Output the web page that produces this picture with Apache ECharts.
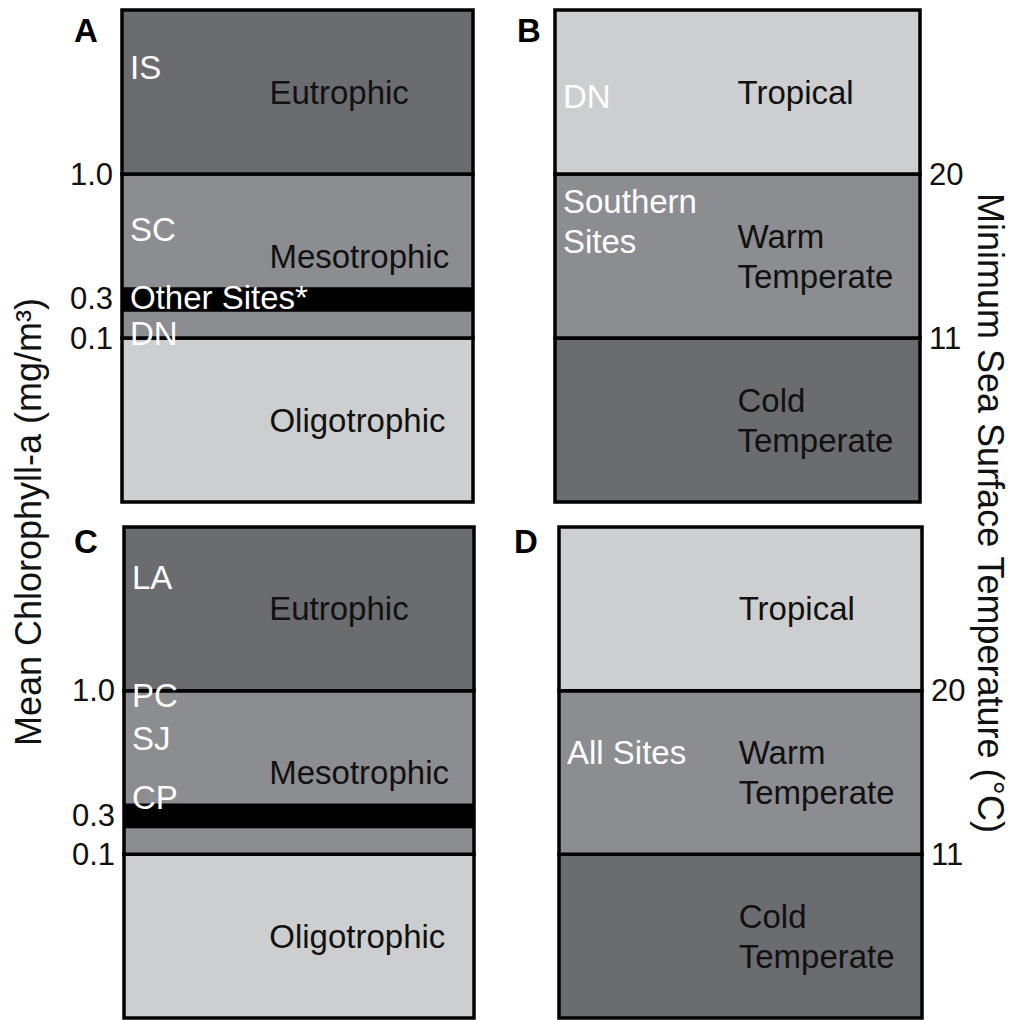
<!DOCTYPE html>
<html>
<head>
<meta charset="utf-8">
<script src="https://cdn.jsdelivr.net/npm/echarts@6/dist/echarts.min.js"></script>
<style>
html,body{margin:0;padding:0;background:#fff;}
#chart{width:1016px;height:1020px;}
</style>
</head>
<body>
<div id="chart"></div>
<script>
// ---- data ----
const bandEdges = [[0, 1], [1, 2], [2, 3]];            // schematic band ranks (bottom -> top)
const trophicBands = ['Oligotrophic', 'Mesotrophic', 'Eutrophic'];
const thermalBands = ['Cold\nTemperate', 'Warm\nTemperate', 'Tropical'];
const chlTickLabels = ['0.1', '0.3', '1.0'];
const chlTickValues = [1, 1.24, 2];
const sstTickLabels = ['11', '20'];
const sstTickValues = [1, 2];
const otherSitesBand = [1.16, 1.31];                      // black band (0.1–0.3 region)
const sitesA = ['IS', 'SC', 'Other Sites*', 'DN'];
const sitesAValues = [2.65, 1.66, 1.25, 1.03];
const sitesB = ['DN', 'Southern\nSites'];
const sitesBValues = [2.47, 1.71];
const sitesC = ['LA', 'PC', 'SJ', 'CP'];
const sitesCValues = [2.69, 1.97, 1.71, 1.35];
const sitesD = ['All Sites'];
const sitesDValues = [1.62];

// ---- style ----
const DARK = '#6b6c70', MID = '#8c8d91', LIGHT = '#cdced0';
const FONT = 'Liberation Sans, Arial, sans-serif';
const trophicColors = [LIGHT, MID, DARK];
const thermalColors = [DARK, MID, LIGHT];

const panels = [
  {letter: 'A', grid: {left: 122, top: 10, width: 351, height: 492}, kind: 'chl', sites: sitesA, siteVals: sitesAValues, black: true, nameX: 0.42, lx: 74, ly: 30},
  {letter: 'B', grid: {left: 555, top: 10, width: 365, height: 492}, kind: 'sst', sites: sitesB, siteVals: sitesBValues, black: false, nameX: 0.5, lx: 517, ly: 30},
  {letter: 'C', grid: {left: 124, top: 527, width: 350, height: 491}, kind: 'chl', sites: sitesC, siteVals: sitesCValues, black: true, nameX: 0.415, lx: 74, ly: 541},
  {letter: 'D', grid: {left: 559, top: 527, width: 363, height: 491}, kind: 'sst', sites: sitesD, siteVals: sitesDValues, black: false, nameX: 0.495, lx: 514, ly: 541}
];

const grids = [], xAxes = [], yAxes = [], series = [], graphics = [];

panels.forEach((p, i) => {
  grids.push(p.grid);
  xAxes.push({type: 'value', gridIndex: i, min: 0, max: 1, show: false});
  const isChl = p.kind === 'chl';
  const vals = isChl ? chlTickValues : sstTickValues;
  const labs = isChl ? chlTickLabels : sstTickLabels;
  yAxes.push({
    type: 'value', gridIndex: i, min: 0, max: 3,
    position: isChl ? 'left' : 'right',
    axisLine: {show: false}, axisTick: {show: false}, splitLine: {show: false},
    axisLabel: {
      customValues: vals,
      formatter: v => labs[vals.indexOf(v)],
      fontSize: 31, fontFamily: FONT, color: '#111', margin: 9
    }
  });
  const colors = isChl ? trophicColors : thermalColors;
  const names = isChl ? trophicBands : thermalBands;
  // bands
  series.push({
    type: 'custom', xAxisIndex: i, yAxisIndex: i, silent: true, z: 1,
    data: bandEdges.map((e, k) => [e[0], e[1], k]),
    renderItem(params, api) {
      const a = api.coord([0, api.value(1)]);
      const b = api.coord([1, api.value(0)]);
      return {type: 'rect', shape: {x: a[0], y: a[1], width: b[0] - a[0], height: b[1] - a[1]},
        style: {fill: colors[api.value(2)], stroke: '#000', lineWidth: 3.5}};
    }
  });
  // black "other sites" band
  if (p.black) {
    series.push({
      type: 'custom', xAxisIndex: i, yAxisIndex: i, silent: true, z: 2,
      data: [[otherSitesBand[0], otherSitesBand[1]]],
      renderItem(params, api) {
        const a = api.coord([0, api.value(1)]);
        const b = api.coord([1, api.value(0)]);
        return {type: 'rect', shape: {x: a[0] - 1, y: a[1], width: b[0] - a[0] + 2, height: b[1] - a[1]},
          style: {fill: '#000'}};
      }
    });
  }
  // band names
  series.push({
    type: 'custom', xAxisIndex: i, yAxisIndex: i, silent: true, z: 3,
    data: bandEdges.map((e, k) => [(e[0] + e[1]) / 2, k]),
    renderItem(params, api) {
      const c = api.coord([p.nameX, api.value(0)]);
      return {type: 'text', x: c[0], y: c[1],
        style: {text: names[api.value(1)], fill: '#111', fontSize: 33, fontFamily: FONT,
          align: 'left', verticalAlign: 'middle', lineHeight: 40}};
    }
  });
  // site labels
  series.push({
    type: 'custom', xAxisIndex: i, yAxisIndex: i, silent: true, z: 4,
    data: p.siteVals.map((v, k) => [v, k]),
    renderItem(params, api) {
      const c = api.coord([0, api.value(0)]);
      return {type: 'text', x: c[0] + 8, y: c[1],
        style: {text: p.sites[api.value(1)], fill: '#fff', fontSize: 33, fontFamily: FONT,
          align: 'left', verticalAlign: 'middle', lineHeight: 40}};
    }
  });
  graphics.push({type: 'text', x: p.lx, y: p.ly,
    style: {text: p.letter, font: 'bold 33px ' + FONT, fill: '#000', align: 'left', verticalAlign: 'middle'}});
});

graphics.push({type: 'text', x: 28, y: 522, rotation: Math.PI / 2,
  style: {text: 'Mean Chlorophyll-a (mg/m³)', font: '36px ' + FONT, fill: '#111', align: 'center', verticalAlign: 'middle'}});
graphics.push({type: 'text', x: 990, y: 513, rotation: -Math.PI / 2,
  style: {text: 'Minimum Sea Surface Temperature (°C)', font: '36px ' + FONT, fill: '#111', align: 'center', verticalAlign: 'middle'}});

const chart = echarts.init(document.getElementById('chart'), null, {renderer: 'svg'});
chart.setOption({
  animation: false,
  backgroundColor: '#fff',
  grid: grids, xAxis: xAxes, yAxis: yAxes, series: series,
  graphic: graphics
});
</script>
</body>
</html>
